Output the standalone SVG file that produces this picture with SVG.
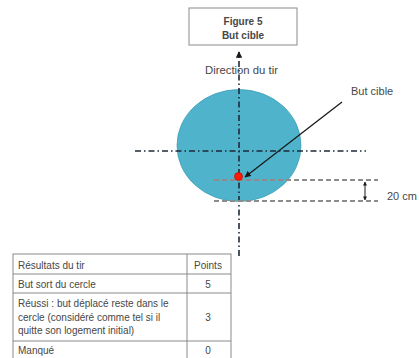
<svg xmlns="http://www.w3.org/2000/svg" width="419" height="358" viewBox="0 0 419 358">
<defs>
<style>
text{font-family:"Liberation Sans",Arial,sans-serif;fill:#474747}
.t{font-size:10px}
.dd{fill:none;stroke:#1f2a3a;stroke-width:1.6;stroke-dasharray:6 3 1.5 3}
.ds{fill:none;stroke:#8c8c8c;stroke-width:2;stroke-dasharray:5 3}
.tb{fill:none;stroke:#8a8a8a;stroke-width:1}
</style>
<marker id="ah" viewBox="0 0 10 10" refX="9" refY="5" markerWidth="5" markerHeight="5" orient="auto-start-reverse"><path d="M0,0 L10,5 L0,10 z" fill="#1a1a1a"/></marker>
<marker id="ahs" viewBox="0 0 10 10" refX="9" refY="5" markerWidth="4" markerHeight="4" orient="auto-start-reverse"><path d="M0,0 L10,5 L0,10 z" fill="#1a1a1a"/></marker>
</defs>
<rect width="419" height="358" fill="#ffffff"/>
<g id="figure-title">
<rect x="189" y="8" width="108" height="37" fill="#fff" stroke="#8a8a8a" stroke-width="1"/>
<text x="243" y="25" font-size="10" font-weight="bold" text-anchor="middle">Figure 5</text>
<text x="243" y="39" font-size="10" font-weight="bold" text-anchor="middle">But cible</text>
</g>
<g id="target">
<ellipse cx="239" cy="145.5" rx="62" ry="56" fill="#4fb3cc" stroke="#3f9fb8" stroke-width="0.8"/>
</g>
<g id="connectors">
<line class="dd" x1="239" y1="256" x2="239" y2="52" marker-end="url(#ahs)"/>
<line class="dd" x1="135" y1="151" x2="366" y2="151"/>
<line class="ds" x1="214" y1="180" x2="378" y2="180"/>
<line class="ds" x1="214" y1="201" x2="378" y2="201"/>
<line x1="365" y1="182" x2="365" y2="200" stroke="#1a1a1a" stroke-width="1" marker-start="url(#ahs)" marker-end="url(#ahs)"/>
<line x1="342" y1="102" x2="245" y2="177" stroke="#1a1a1a" stroke-width="1.3" marker-end="url(#ah)"/>
</g>
<g id="direction-label">
<text x="241.5" y="74" font-size="11.3" text-anchor="middle">Direction du tir</text>
</g>
<g id="goal-dot">
<circle cx="238.5" cy="176.5" r="4" fill="#ff1a00" stroke="#c00000" stroke-width="0.6"/>
</g>
<g id="but-cible-label">
<text x="351" y="95" font-size="11">But cible</text>
</g>
<g id="dimension-label">
<text x="387" y="200" font-size="11">20 cm</text>
</g>
<g id="results-table">
<rect class="tb" x="13" y="254" width="218" height="110"/>
<line class="tb" x1="187" y1="254" x2="187" y2="358"/>
<line class="tb" x1="13" y1="274" x2="231" y2="274"/>
<line class="tb" x1="13" y1="293" x2="231" y2="293"/>
<line class="tb" x1="13" y1="341" x2="231" y2="341"/>
<text class="t" x="18" y="269">Résultats du tir</text>
<text class="t" x="208" y="269" text-anchor="middle">Points</text>
<text class="t" x="18" y="288">But sort du cercle</text>
<text class="t" x="208" y="288" text-anchor="middle">5</text>
<text class="t" x="18" y="307">Réussi : but déplacé reste dans le</text>
<text class="t" x="18" y="321">cercle (considéré comme tel si il</text>
<text class="t" x="18" y="334">quitte son logement initial)</text>
<text class="t" x="208" y="321" text-anchor="middle">3</text>
<text class="t" x="18" y="354">Manqué</text>
<text class="t" x="208" y="354" text-anchor="middle">0</text>
</g>
</svg>
